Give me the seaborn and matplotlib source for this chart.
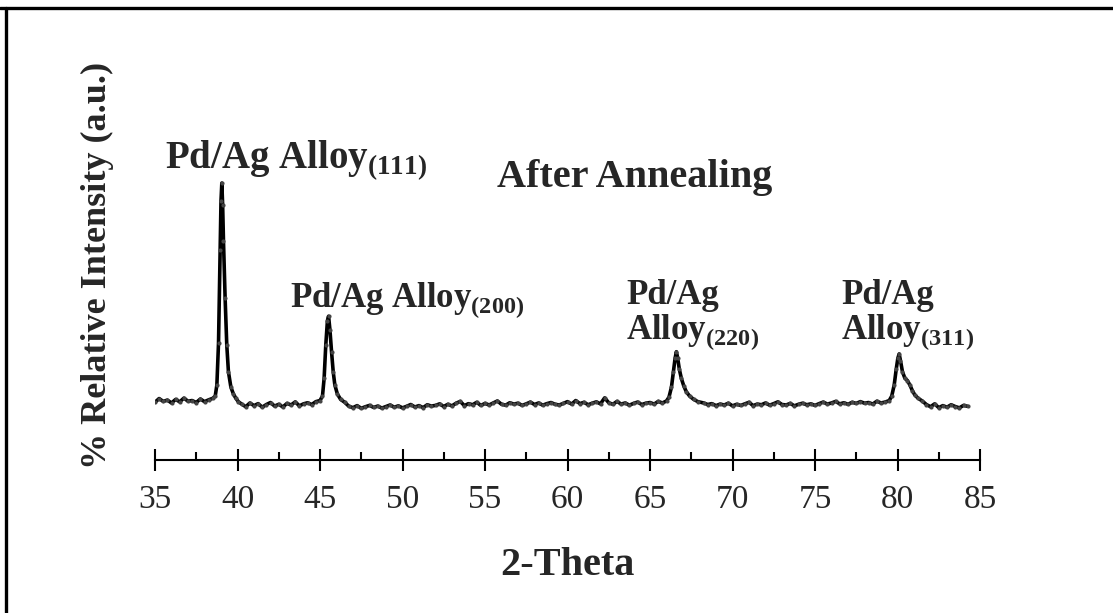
import numpy as np
import pandas as pd
import matplotlib
matplotlib.use('Agg')
import matplotlib.pyplot as plt
from matplotlib.lines import Line2D
from matplotlib.ticker import MultipleLocator
import seaborn as sns

# Baseline scans (step 0.25 deg) between the peaks
scan_a_start = 34.5
scan_a = [1.8, 2.6, 1.2, 2.9, 1.6, 2.2, 0.9, 2.5, 1.4, 3.1, 1.7, 2.0, 1.1, 2.7, 1.5, 2.3, 3.0]
scan_b_start = 40.25
scan_b = [0.4, -0.8, 0.9, -0.3, 0.6, -1.0, 0.2, 1.1, -0.5, 0.3, -0.9, 0.7, 0.0, 1.4, -0.4,
          0.5, 1.0, 0.2, 1.5]
scan_c_start = 46.75
scan_c = [-0.6, -1.2, -0.3, -1.5, -0.8, -0.2, -1.1, -0.5, -1.4, -0.7, 0.0, -1.0, -0.4, -1.3,
          -0.6, 0.2, -0.9, -0.3, -1.2, 0.1, -0.5,
          -0.2, 0.5, -0.7, 0.3, -0.4, 0.8, 1.6, -0.3, 0.6, 0.1, 1.2, -0.2, 0.7, 0.0, 0.9,
          1.8, 0.3, -0.1, 1.0, 0.4,
          0.8, -0.2, 0.5, 1.3, 0.2, 0.9, -0.1, 0.6, 1.1, 0.3, 0.0, 0.7, 1.5, 0.4, 2.0,
          0.6, 1.2, 0.1, 0.8, 1.4,
          0.5, 3.2, 1.0, 0.3, 1.6, 0.4, 0.9, -0.1, 0.7, 1.3, 0.2, 0.8, 1.1, 0.4, 1.6, 0.9]
scan_d_start = 68.25
scan_d = [0.9, 0.2, 0.6, -0.3, 0.4, 0.0, 0.8, -0.4, 0.3, -0.2, 0.5, 1.2, -0.3, 0.4, 0.1,
          0.9, -0.1, 0.6, 1.4, 0.2,
          0.0, 0.7, -0.4, 0.3, 0.8, 0.1, 0.5, -0.2, 0.6, 1.3, 0.4, 0.9, 1.6, 0.5, 1.0,
          0.3, 1.2, 0.7, 1.5, 0.8,
          1.1, 0.4, 1.7, 0.9, 1.3]
scan_e_start = 81.75
scan_e = [0.2, -0.8, 0.5, -1.2, -0.3, -1.0, 0.1, -0.7, -1.3, -0.2, -0.6]
scan_step = 0.25

# Peak profiles
peak_111_2theta = [38.65, 38.75, 38.85, 38.95, 39.0, 39.05, 39.1, 39.15, 39.25, 39.35, 39.45,
                   39.6, 39.75, 39.9, 40.05]
peak_111_int = [4, 9, 28, 70, 92, 100, 90, 74, 48, 27, 15, 8, 5, 3, 1.5]
peak_200_2theta = [45.0, 45.15, 45.25, 45.35, 45.45, 45.52, 45.6, 45.7, 45.8, 45.9, 46.05,
                   46.25, 46.5]
peak_200_int = [2.0, 4, 12, 27, 38, 40, 34, 24, 15, 9, 5, 2.5, 1.2]
peak_220_2theta = [66.0, 66.15, 66.3, 66.42, 66.52, 66.6, 66.68, 66.78, 66.9, 67.05, 67.2,
                   67.4, 67.65, 67.9]
peak_220_int = [1.8, 3.5, 8, 15, 21, 24, 21, 16, 12, 8.5, 6, 4, 2.5, 1.5]
peak_311_2theta = [79.5, 79.65, 79.8, 79.92, 80.02, 80.1, 80.18, 80.3, 80.45, 80.6, 80.75,
                   80.9, 81.05, 81.25, 81.5]
peak_311_int = [2.0, 4, 9, 16, 21, 23, 20, 15, 12, 11, 9, 6.5, 4.5, 3, 1.8]

x_ticks = [35, 40, 45, 50, 55, 60, 65, 70, 75, 80, 85]


def scan(start, vals):
    return list(start + scan_step * np.arange(len(vals))), list(vals)


parts = [scan(scan_a_start, scan_a), (peak_111_2theta, peak_111_int),
         scan(scan_b_start, scan_b), (peak_200_2theta, peak_200_int),
         scan(scan_c_start, scan_c), (peak_220_2theta, peak_220_int),
         scan(scan_d_start, scan_d), (peak_311_2theta, peak_311_int),
         scan(scan_e_start, scan_e)]
df = pd.DataFrame({
    '2theta': np.concatenate([p[0] for p in parts]),
    'intensity': np.concatenate([p[1] for p in parts]),
})

sns.set_style('white')
plt.rcParams['font.family'] = ['Liberation Serif', 'DejaVu Serif']
plt.rcParams['mathtext.fontset'] = 'custom'
plt.rcParams['mathtext.rm'] = 'Liberation Serif'
plt.rcParams['mathtext.bf'] = 'Liberation Serif:bold'

fig = plt.figure(figsize=(11.13, 6.13), dpi=100)
ax = fig.add_axes([155 / 1113, 1 - 460 / 613, 825 / 1113, 310 / 613])

sns.lineplot(data=df, x='2theta', y='intensity', ax=ax, color='black', linewidth=2.6,
             marker='o', markersize=3.0, markeredgewidth=0, markerfacecolor='#444444',
             sort=False)

ax.set_xlim(35, 85)
ax.set_ylim(-24.8, 114.9)
ax.set_xticks(x_ticks)
ax.xaxis.set_minor_locator(MultipleLocator(2.5))
ax.set_yticks([])
for s in ['left', 'top', 'right']:
    ax.spines[s].set_visible(False)
ax.spines['bottom'].set_linewidth(1.5)
ax.spines['bottom'].set_color('black')
ax.tick_params(axis='x', which='both', bottom=True)
ax.tick_params(axis='x', which='major', direction='inout', length=16, width=1.5,
               labelsize=24, pad=10, color='black')
ax.tick_params(axis='x', which='minor', direction='in', length=6, width=1.5, color='black')

ax.set_xlabel('2-Theta', fontsize=29, fontweight='bold')
ax.xaxis.label.set_va('center')
ax.xaxis.set_label_coords(0.5, -0.34)
ax.set_ylabel('% Relative Intensity (a.u.)', fontsize=26, fontweight='bold')
ax.yaxis.label.set_va('center')
ax.yaxis.set_label_coords(-0.0703, 0.629)

lab = dict(fontweight='bold', va='center', ha='left', clip_on=False)
ax.text(35.6, 110.4, r'Pd/Ag Alloy$_{\mathbf{(111)}}$', fontsize=28, **lab)
ax.text(43.2, 47.3, r'Pd/Ag Alloy$_{\mathbf{(200)}}$', fontsize=25, **lab)
ax.text(63.55, 49.3, 'Pd/Ag', fontsize=25, **lab)
ax.text(63.55, 32.6, r'Alloy$_{\mathbf{(220)}}$', fontsize=25, **lab)
ax.text(76.6, 49.3, 'Pd/Ag', fontsize=25, **lab)
ax.text(76.6, 32.6, r'Alloy$_{\mathbf{(311)}}$', fontsize=25, **lab)
ax.text(55.7, 102.7, 'After Annealing', fontsize=29, fontweight='bold', va='center',
        ha='left', clip_on=False)

# outer frame (top and left edges only)
fig.add_artist(Line2D([0, 1], [1 - 8 / 613] * 2, transform=fig.transFigure,
                      color='black', linewidth=2.4))
fig.add_artist(Line2D([6 / 1113] * 2, [0, 1 - 8 / 613], transform=fig.transFigure,
                      color='black', linewidth=2.4))

fig.savefig('out.png', dpi=100)
